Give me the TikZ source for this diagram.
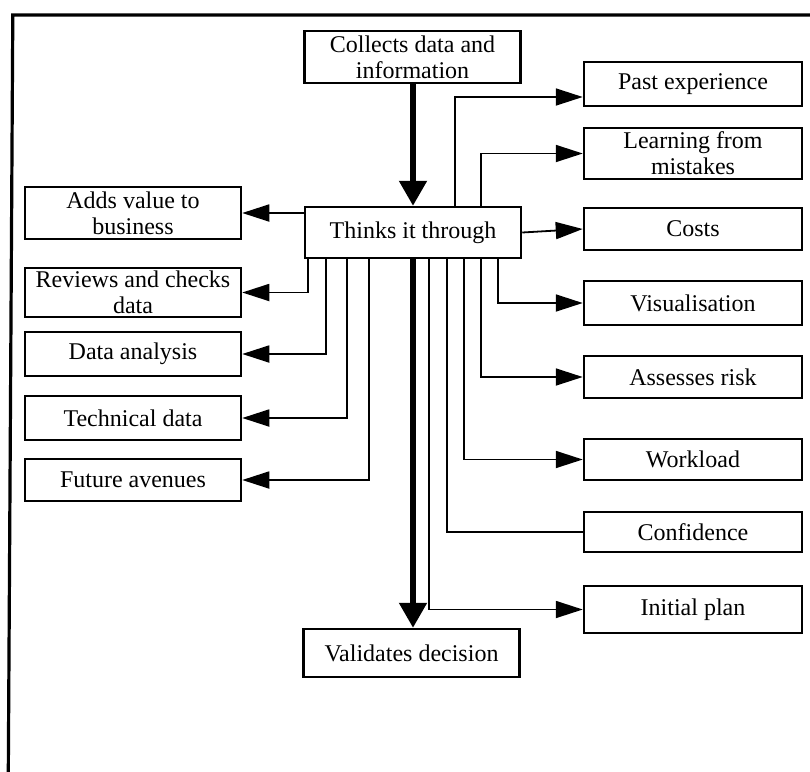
\documentclass[tikz,border=0pt]{standalone}
\usepackage{fontspec}
\setmainfont{Liberation Serif}
\usetikzlibrary{arrows.meta}
\begin{document}
\begin{tikzpicture}[x=0.5pt,y=-0.5pt,
  box/.style={draw, line width=1.25pt, align=center, inner sep=0pt,
    font=\fontsize{12}{13}\selectfont},
  mid/.style={box, minimum width=108pt},
  lbox/.style={box, minimum width=108pt},
  rbox/.style={box, minimum width=109pt},
  plain/.style={line width=0.9pt},
  link/.style={plain, -{Triangle[length=13.5pt,width=8.5pt]}},
  main/.style={line width=2.6pt, -{Triangle[length=12.5pt,width=13.5pt]}}]
\useasboundingbox (0,0) rectangle (810,772);

% open frame: top and left edges only
\draw[line width=1.6pt] (810,15) -- (12.8,15) -- (8.3,772);

% central column
\node[mid, minimum height=26pt] (collect) at (412.5,57) {Collects data and\\information};
\node[mid, minimum height=25.5pt] (think) at (413,232.5) {Thinks it through};
\node[mid, minimum height=24pt] (valid) at (411.5,653) {Validates decision};

% left column
\node[lbox, minimum height=26pt] (adds) at (133,213) {Adds value to\\business};
\node[lbox, minimum height=24.5pt] (review) at (133,292.5) {Reviews and checks\\data};
\node[lbox, minimum height=22pt] (analysis) at (133,354) {Data analysis};
\node[lbox, minimum height=22pt] (tech) at (133,418) {Technical data};
\node[lbox, minimum height=21pt] (future) at (133,480) {Future avenues};

% right column
\node[rbox, minimum height=22pt] (past) at (693,84) {Past experience};
\node[rbox, minimum height=25.5pt] (learn) at (693,153.5) {Learning from\\mistakes};
\node[rbox, minimum height=21pt] (costs) at (693,229) {Costs};
\node[rbox, minimum height=22pt] (visual) at (693,303) {Visualisation};
\node[rbox, minimum height=21pt] (risk) at (693,377) {Assesses risk};
\node[rbox, minimum height=20.5pt] (work) at (693,459.5) {Workload};
\node[rbox, minimum height=20pt] (conf) at (693,532) {Confidence};
\node[rbox, minimum height=23.5pt] (plan) at (693,609.5) {Initial plan};

% main flow
\draw[main] (collect.south -| think.north) -- (think.north);
\draw[main] (think.south) -- (think.south |- valid.north);

% branches to the left
\draw[link] (adds.east -| think.west) -- (adds.east);
\draw[link] (think.south west) ++(4,0) |- (review.east);
\draw[link] (think.south west) ++(22,0) |- (analysis.east);
\draw[link] (think.south west) ++(43,0) |- (tech.east);
\draw[link] (think.south west) ++(65,0) |- (future.east);

% branches to the right
\draw[link] (think.north west) ++(151,0) |- ([yshift=-6.5pt]past.west);
\draw[link] (think.north west) ++(177,0) |- (learn.west);
\draw[link] (think.east) -- (costs.west);
\draw[link] (think.south west) ++(194,0) |- (visual.west);
\draw[link] (think.south west) ++(177,0) |- (risk.west);
\draw[link] (think.south west) ++(160,0) |- (work.west);
\draw[plain] (think.south west) ++(143,0) |- (conf.west);
\draw[link] (think.south west) ++(125,0) |- (plan.west);
\end{tikzpicture}
\end{document}
